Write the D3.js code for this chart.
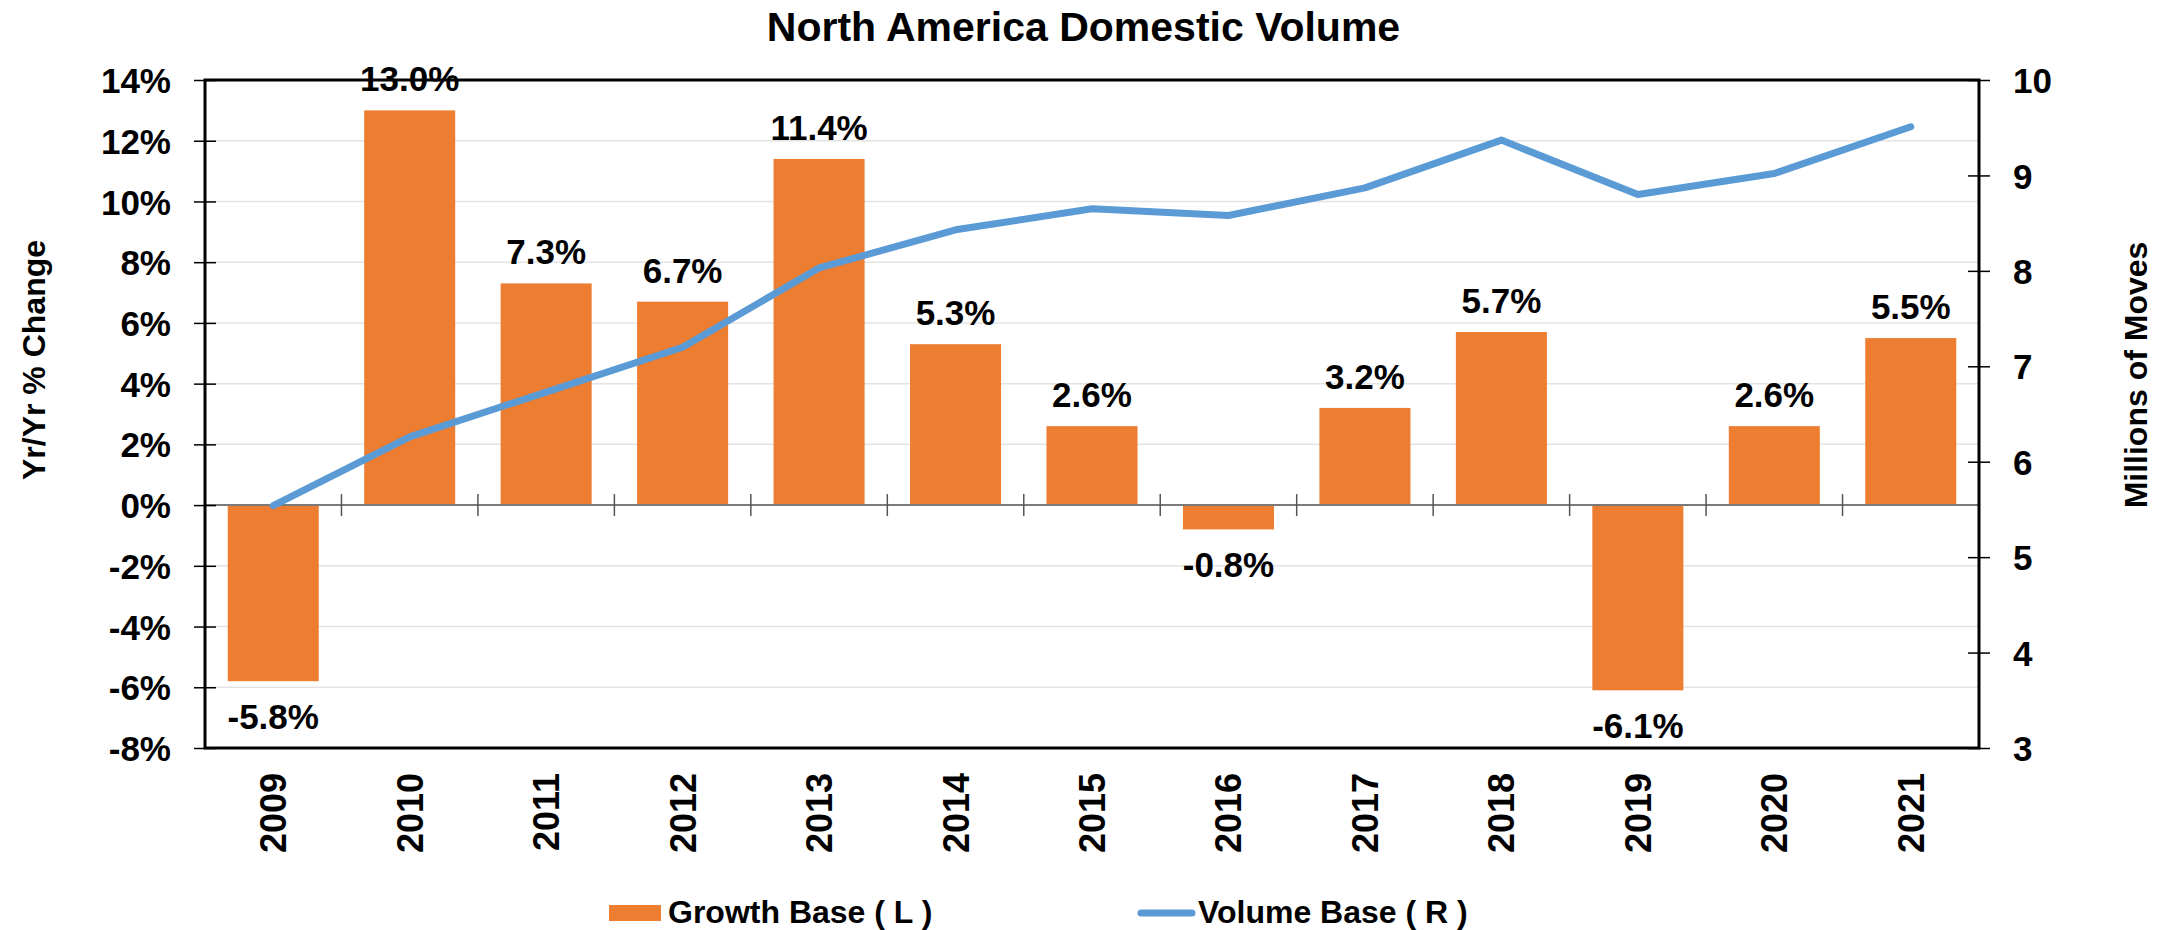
<!DOCTYPE html>
<html>
<head>
<meta charset="utf-8">
<script src="https://cdn.jsdelivr.net/npm/d3@7"></script>
<style>
  body { margin: 0; background: #fff; }
  svg { display: block; font-family: "Liberation Sans", Arial, sans-serif; font-weight: bold; }
  .grid line { stroke: #e3e3e3; stroke-width: 1.5; }
  .bar { fill: #ed7d31; }
  .zero-line { stroke: #7a7a7a; stroke-width: 2; }
  .cat-tick { stroke: #555; stroke-width: 1.5; }
  .volume-line { fill: none; stroke: #5b9bd5; stroke-width: 7; stroke-linejoin: round; stroke-linecap: round; }
  .frame { fill: none; stroke: #000; stroke-width: 3; }
  .axis path { display: none; }
  .axis line { stroke: #000; stroke-width: 1.5; }
  .axis text { font-size: 35px; fill: #000; font-family: "Liberation Sans", Arial, sans-serif; font-weight: bold; }
  .bar-label { font-size: 35px; fill: #000; }
</style>
</head>
<body>
<div id="chart"></div>
<script>
const years = ["2009", "2010", "2011", "2012", "2013", "2014", "2015", "2016", "2017", "2018", "2019", "2020", "2021"];
const growth = [-5.8, 13.0, 7.3, 6.7, 11.4, 5.3, 2.6, -0.8, 3.2, 5.7, -6.1, 2.6, 5.5];
const volume = [5.54, 6.26, 6.73, 7.2, 8.03, 8.43, 8.65, 8.58, 8.87, 9.37, 8.8, 9.02, 9.51];
const leftTicks = [-8, -6, -4, -2, 0, 2, 4, 6, 8, 10, 12, 14];
const rightTicks = [3, 4, 5, 6, 7, 8, 9, 10];

const width = 2167;
const height = 930;
const marginTop = 80;
const marginBottom = 182;
const marginLeft = 205;
const marginRight = 188;

const data = years.map((year, i) => ({ year, growth: growth[i], volume: volume[i] }));

const x = d3.scaleBand()
  .domain(years)
  .range([marginLeft, width - marginRight])
  .paddingInner(0.333)
  .paddingOuter(0.1665);

const yLeft = d3.scaleLinear().domain([-8, 14]).range([height - marginBottom, marginTop]);
const yRight = d3.scaleLinear().domain([3, 10]).range([height - marginBottom, marginTop]);

const svg = d3.select("#chart").append("svg")
  .attr("width", width)
  .attr("height", height);

// gridlines
svg.append("g")
  .attr("class", "grid")
  .selectAll("line")
  .data(leftTicks.filter((d) => d !== 0))
  .join("line")
  .attr("x1", marginLeft)
  .attr("x2", width - marginRight)
  .attr("y1", (d) => yLeft(d))
  .attr("y2", (d) => yLeft(d));

// bars
svg.append("g")
  .selectAll("rect")
  .data(data)
  .join("rect")
  .attr("class", "bar")
  .attr("x", (d) => x(d.year))
  .attr("width", x.bandwidth())
  .attr("y", (d) => yLeft(Math.max(0, d.growth)))
  .attr("height", (d) => Math.abs(yLeft(d.growth) - yLeft(0)));

// zero line + category ticks
svg.append("line")
  .attr("class", "zero-line")
  .attr("x1", marginLeft)
  .attr("x2", width - marginRight)
  .attr("y1", yLeft(0))
  .attr("y2", yLeft(0));

svg.append("g")
  .selectAll("line")
  .data(years.slice(1))
  .join("line")
  .attr("class", "cat-tick")
  .attr("x1", (d) => x(d) - (x.step() * x.paddingInner()) / 2)
  .attr("x2", (d) => x(d) - (x.step() * x.paddingInner()) / 2)
  .attr("y1", yLeft(0) - 11)
  .attr("y2", yLeft(0) + 11);

// volume line
const line = d3.line()
  .x((d) => x(d.year) + x.bandwidth() / 2)
  .y((d) => yRight(d.volume));

svg.append("path")
  .datum(data)
  .attr("class", "volume-line")
  .attr("d", line);

// frame
svg.append("rect")
  .attr("class", "frame")
  .attr("x", marginLeft)
  .attr("y", marginTop)
  .attr("width", width - marginLeft - marginRight)
  .attr("height", height - marginTop - marginBottom);

// axes
svg.append("g")
  .attr("class", "axis")
  .attr("transform", `translate(${marginLeft + 11},0)`)
  .call(d3.axisLeft(yLeft).tickValues(leftTicks).tickSize(22).tickPadding(23).tickFormat((d) => d + "%"))
  .call((g) => g.selectAll("text").attr("dy", "0.36em"));

svg.append("g")
  .attr("class", "axis")
  .attr("transform", `translate(${width - marginRight - 11},0)`)
  .call(d3.axisRight(yRight).tickValues(rightTicks).tickSize(22).tickPadding(23).tickFormat(d3.format("d")))
  .call((g) => g.selectAll("text").attr("dy", "0.36em"));

svg.append("g")
  .attr("class", "axis")
  .attr("transform", `translate(0,${height - marginBottom})`)
  .call(d3.axisBottom(x).tickSize(0))
  .call((g) => g.selectAll("line").remove())
  .call((g) =>
    g.selectAll("text")
      .attr("transform", "rotate(-90)")
      .attr("text-anchor", "end")
      .attr("x", -25)
      .attr("y", 0)
      .attr("dy", "0.36em")
      .style("font-size", "36px")
  );

// bar labels
svg.append("g")
  .selectAll("text")
  .data(data)
  .join("text")
  .attr("class", "bar-label")
  .attr("text-anchor", "middle")
  .attr("x", (d) => x(d.year) + x.bandwidth() / 2)
  .attr("y", (d) => d.growth >= 0 ? yLeft(d.growth) - 19 : yLeft(d.growth) + 48)
  .text((d) => d.growth.toFixed(1) + "%");

// title
svg.append("text")
  .attr("x", width / 2)
  .attr("y", 41)
  .attr("text-anchor", "middle")
  .style("font-size", "41px")
  .text("North America Domestic Volume");

// axis titles
svg.append("text")
  .attr("transform", "translate(45,360) rotate(-90)")
  .attr("text-anchor", "middle")
  .style("font-size", "32px")
  .text("Yr/Yr % Change");

svg.append("text")
  .attr("transform", "translate(2147,375) rotate(-90)")
  .attr("text-anchor", "middle")
  .style("font-size", "32px")
  .text("Millions of Moves");

// legend
const legend = svg.append("g").style("font-size", "32px");
legend.append("rect")
  .attr("x", 609).attr("y", 905).attr("width", 52).attr("height", 16)
  .attr("fill", "#ed7d31");
legend.append("text").attr("x", 668).attr("y", 923).text("Growth Base ( L )");
legend.append("line")
  .attr("x1", 1141).attr("x2", 1192).attr("y1", 913).attr("y2", 913)
  .attr("stroke", "#5b9bd5").attr("stroke-width", 7).attr("stroke-linecap", "round");
legend.append("text").attr("x", 1198).attr("y", 923).text("Volume Base ( R )");
</script>
</body>
</html>
